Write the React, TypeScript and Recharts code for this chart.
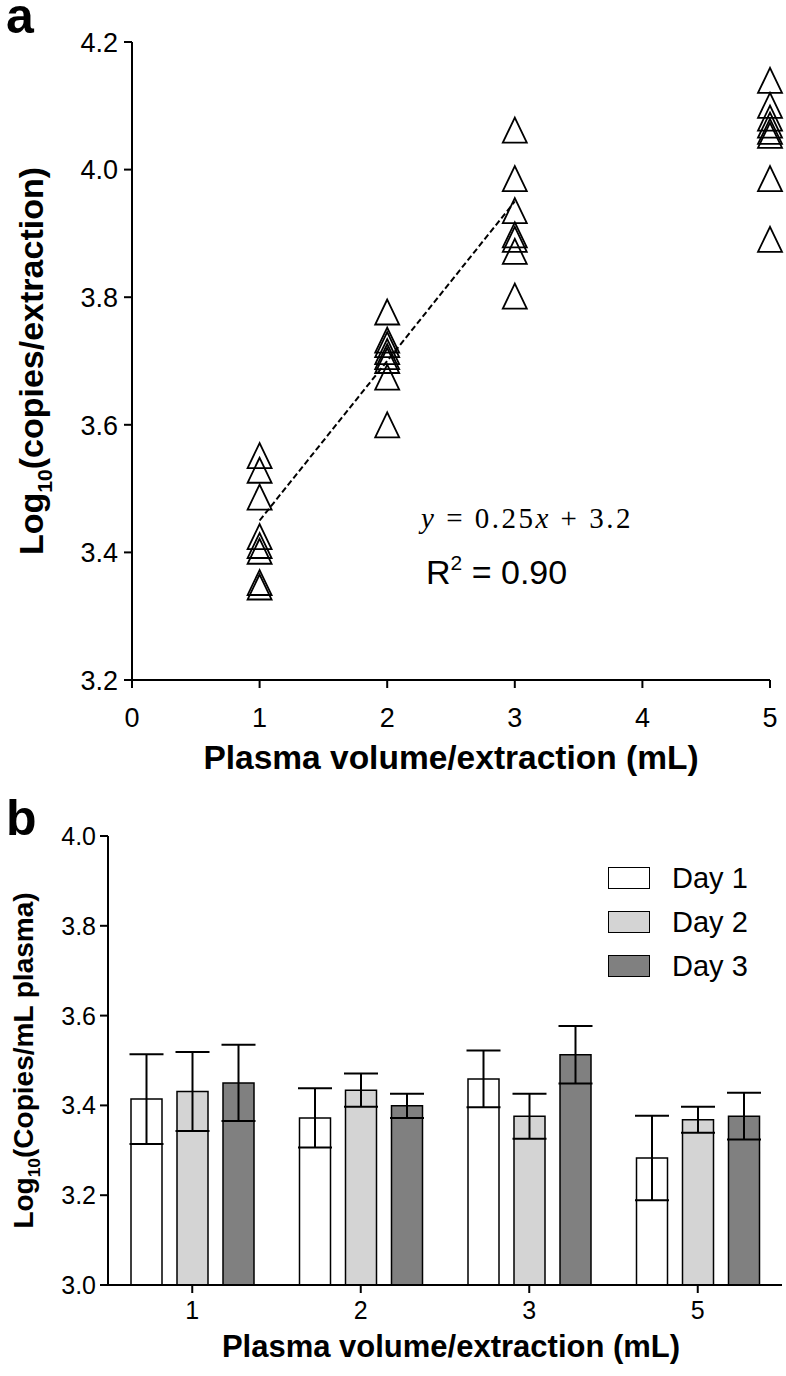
import React from "react";
import {
  ScatterChart,
  Scatter,
  XAxis,
  YAxis,
  ReferenceLine,
  BarChart,
  Bar,
  ErrorBar,
  Legend,
} from "recharts";

const FONT = "'Liberation Sans', Arial, Helvetica, sans-serif";

// panel a: log10 copies per extraction, one list per plasma volume
const volumes = [1, 2, 3, 5];
const copies1mL = [3.551, 3.528, 3.486, 3.424, 3.41, 3.401, 3.352, 3.345];
const copies2mL = [3.776, 3.732, 3.725, 3.714, 3.706, 3.7, 3.674, 3.599];
const copies3mL = [4.061, 3.985, 3.935, 3.897, 3.89, 3.871, 3.801];
const copies5mL = [4.139, 4.1, 4.08, 4.069, 4.059, 4.053, 3.985, 3.89];
const fitX = [1, 3];
const fitY = [3.45, 3.95];
const scatterXTicks = [0, 1, 2, 3, 4, 5];
const scatterYTicks = [3.2, 3.4, 3.6, 3.8, 4.0, 4.2];

// panel b: log10 copies per mL plasma, by day
const categories = ["1", "2", "3", "5"];
const day1 = [3.414, 3.372, 3.459, 3.283];
const day1Err = [0.1, 0.066, 0.063, 0.094];
const day2 = [3.431, 3.434, 3.376, 3.368];
const day2Err = [0.088, 0.037, 0.05, 0.029];
const day3 = [3.45, 3.399, 3.513, 3.376];
const day3Err = [0.085, 0.027, 0.064, 0.052];
const barYTicks = [3.0, 3.2, 3.4, 3.6, 3.8, 4.0];

const series = [
  { key: "day1", name: "Day 1", fill: "#ffffff" },
  { key: "day2", name: "Day 2", fill: "#d4d4d4" },
  { key: "day3", name: "Day 3", fill: "#808080" },
];

const scatterData = [copies1mL, copies2mL, copies3mL, copies5mL].flatMap(
  (vals, i) => vals.map((y) => ({ x: volumes[i], y }))
);

const barData = categories.map((c, i) => ({
  name: c,
  day1: day1[i],
  day1Err: day1Err[i],
  day2: day2[i],
  day2Err: day2Err[i],
  day3: day3[i],
  day3Err: day3Err[i],
}));

const Triangle = (props: any) => {
  const { cx, cy } = props;
  if (cx == null || cy == null) return null;
  return (
    <polygon
      points={`${cx},${cy - 13} ${cx - 12},${cy + 12} ${cx + 12},${cy + 12}`}
      fill="none"
      stroke="#000"
      strokeWidth={1.8}
    />
  );
};

// tick labels drawn by hand so the font size sticks
const Tick = (props: any) => {
  const { x, y, payload, fs, side, decimals } = props;
  const v = payload.value;
  const label = decimals ? Number(v).toFixed(decimals) : String(v);
  if (side === "left") {
    return (
      <text x={x} y={y} dy="0.36em" textAnchor="end" fontFamily={FONT} fontSize={fs} fill="#000">
        {label}
      </text>
    );
  }
  return (
    <text x={x} y={y} dy="0.72em" textAnchor="middle" fontFamily={FONT} fontSize={fs} fill="#000">
      {label}
    </text>
  );
};

const XTitle = (props: any) => {
  const vb = props.viewBox || {};
  return (
    <text
      x={vb.x + vb.width / 2 + (props.dx || 0)}
      y={vb.y + (props.dy || 0)}
      textAnchor="middle"
      fontFamily={FONT}
      fontWeight="bold"
      fontSize={props.fs}
      fill="#000"
    >
      {props.text}
    </text>
  );
};

const YTitle = (props: any) => {
  const vb = props.viewBox || {};
  const cx = props.cx;
  const cy = vb.y + vb.height / 2 + (props.dy || 0);
  return (
    <text
      transform={`translate(${cx},${cy}) rotate(-90)`}
      textAnchor="middle"
      fontFamily={FONT}
      fontWeight="bold"
      fontSize={props.fs}
      fill="#000"
    >
      Log
      <tspan fontSize={props.fs * 0.62} dy={props.fs * 0.25}>
        10
      </tspan>
      <tspan dy={-props.fs * 0.25}>{props.text}</tspan>
    </text>
  );
};

const axisLine = { stroke: "#000", strokeWidth: 2 };

const BarLegend = () => (
  <div style={{ fontFamily: FONT, fontSize: 29, color: "#000" }}>
    {series.map((s) => (
      <div
        key={s.key}
        style={{ display: "flex", alignItems: "center", height: 44 }}
      >
        <div
          style={{
            width: 40,
            height: 20,
            background: s.fill,
            border: "1.5px solid #000",
            marginRight: 22,
          }}
        />
        <span>{s.name}</span>
      </div>
    ))}
  </div>
);

export default function App() {
  return (
    <div
      style={{
        position: "absolute",
        left: 0,
        top: 0,
        width: 786,
        height: 1376,
        background: "#fff",
      }}
    >
      <div
        style={{
          position: "absolute",
          left: 6,
          top: 1,
          fontFamily: FONT,
          fontWeight: "bold",
          fontSize: 50,
          lineHeight: "30px",
        }}
      >
        a
      </div>
      <div style={{ position: "absolute", left: 0, top: 0 }}>
        <ScatterChart
          width={786}
          height={800}
          margin={{ top: 42, right: 16, bottom: 90, left: 0 }}
        >
          <XAxis
            type="number"
            dataKey="x"
            domain={[0, 5]}
            ticks={scatterXTicks}
            height={30}
            axisLine={axisLine}
            tickLine={axisLine}
            tickSize={8}
            tickMargin={20}
            tick={<Tick fs={27} side="bottom" />}
            label={<XTitle text="Plasma volume/extraction (mL)" fs={33.5} dy={89} />}
          />
          <YAxis
            type="number"
            dataKey="y"
            domain={[3.2, 4.2]}
            ticks={scatterYTicks}
            width={132}
            axisLine={axisLine}
            tickLine={axisLine}
            tickSize={8}
            tickMargin={6}
            tick={<Tick fs={27} side="left" decimals={1} />}
            label={<YTitle text="(copies/extraction)" fs={34} cx={43} dy={0} />}
          />
          <ReferenceLine
            segment={[
              { x: fitX[0], y: fitY[0] },
              { x: fitX[1], y: fitY[1] },
            ]}
            stroke="#000"
            strokeWidth={2}
            strokeDasharray="6 3"
          />
          <Scatter
            data={scatterData}
            shape={<Triangle />}
            isAnimationActive={false}
          />
        </ScatterChart>
      </div>
      <div
        style={{
          position: "absolute",
          left: 421,
          top: 504,
          fontFamily: "'Liberation Serif', 'Times New Roman', serif",
          fontSize: 29,
          letterSpacing: 2.5,
          lineHeight: 1,
          whiteSpace: "nowrap",
        }}
      >
        <i>y</i> = 0.25<i>x</i> + 3.2
      </div>
      <div
        style={{
          position: "absolute",
          left: 426,
          top: 555,
          fontFamily: FONT,
          fontSize: 34,
          lineHeight: 1,
          whiteSpace: "nowrap",
        }}
      >
        R
        <span style={{ fontSize: 21, position: "relative", top: -14 }}>2</span>{" "}
        = 0.90
      </div>

      <div
        style={{
          position: "absolute",
          left: 6,
          top: 793,
          fontFamily: FONT,
          fontWeight: "bold",
          fontSize: 50,
          lineHeight: 1,
        }}
      >
        b
      </div>
      <div style={{ position: "absolute", left: 0, top: 790 }}>
        <BarChart
          width={786}
          height={586}
          data={barData}
          margin={{ top: 46, right: 4, bottom: 61, left: 0 }}
          barSize={31}
          barGap={15}
        >
          <XAxis
            dataKey="name"
            height={30}
            axisLine={axisLine}
            tickLine={axisLine}
            tickSize={8}
            tickMargin={8}
            tick={<Tick fs={25} side="bottom" />}
            label={<XTitle text="Plasma volume/extraction (mL)" fs={31} dy={72} dx={6} />}
          />
          <YAxis
            type="number"
            domain={[3.0, 4.0]}
            ticks={barYTicks}
            width={108}
            allowDataOverflow
            axisLine={axisLine}
            tickLine={axisLine}
            tickSize={8}
            tickMargin={4}
            tick={<Tick fs={25} side="left" decimals={1} />}
            label={<YTitle text="(Copies/mL plasma)" fs={28} cx={33} dy={0} />}
          />
          <Legend
            layout="vertical"
            align="center"
            verticalAlign="middle"
            content={<BarLegend />}
            wrapperStyle={{ top: 66, left: 608, width: 180 }}
          />
          {series.map((s) => (
            <Bar
              key={s.key}
              dataKey={s.key}
              name={s.name}
              fill={s.fill}
              stroke="#000"
              strokeWidth={1.5}
              isAnimationActive={false}
            >
              <ErrorBar
                dataKey={`${s.key}Err`}
                width={17}
                stroke="#000"
                strokeWidth={2}
                direction="y"
              />
            </Bar>
          ))}
        </BarChart>
      </div>
    </div>
  );
}
